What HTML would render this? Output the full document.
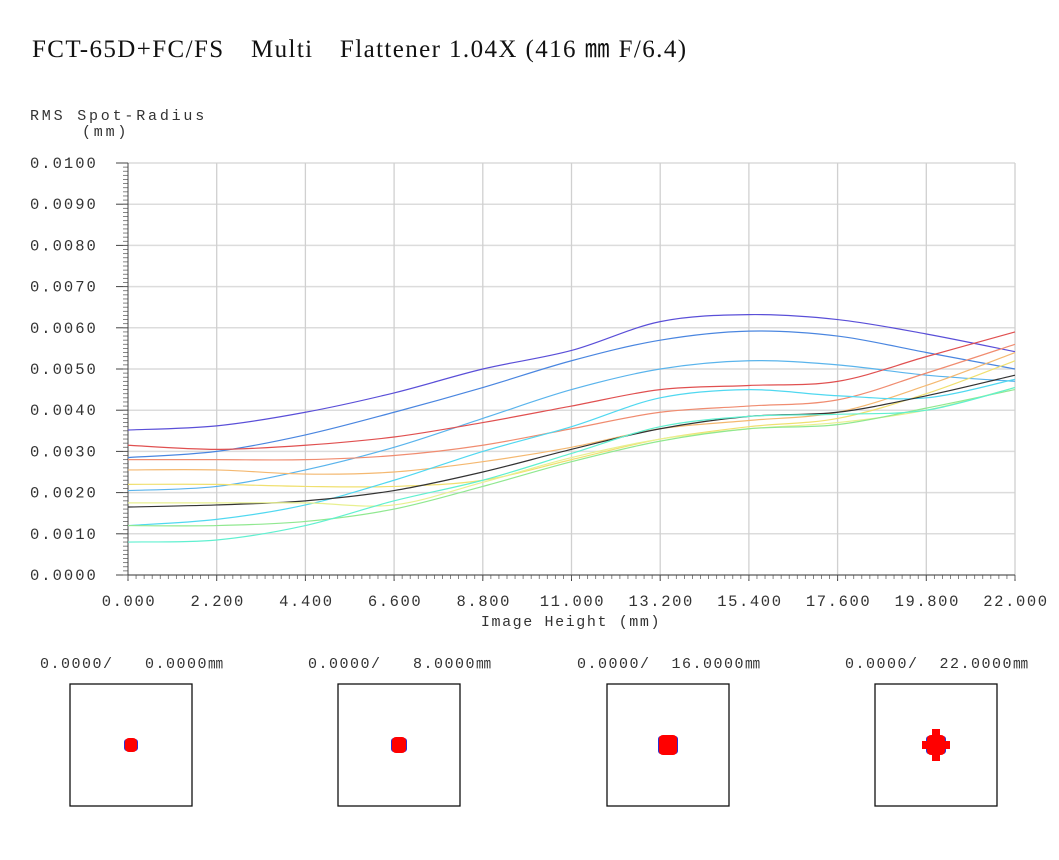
<!DOCTYPE html>
<html><head><meta charset="utf-8"><style>
body{margin:0;background:#fff;width:1059px;height:860px;overflow:hidden}
svg{display:block}
.mono{font-family:"Liberation Mono",monospace;white-space:pre}
</style></head><body>
<svg width="1059" height="860" xmlns="http://www.w3.org/2000/svg">
<text x="32" y="57" font-family="Liberation Serif, serif" font-size="25" letter-spacing="1.4" fill="#111" style="white-space:pre">FCT-65D+FC/FS　Multi　Flattener 1.04X (416 ㎜ F/6.4)</text>
<text x="30" y="120" class="mono" font-size="15" letter-spacing="2.8" fill="#333">RMS Spot-Radius</text>
<text x="82" y="136" class="mono" font-size="15" letter-spacing="2.8" fill="#333">(mm)</text>
<g id="grid"></g><g id="axes"></g><g id="series"></g>
<text x="571" y="626" text-anchor="middle" class="mono" font-size="15" letter-spacing="1.6" fill="#333">Image Height (mm)</text>
<g id="spots"></g>
</svg>
<script>
const xVals=[0,2.2,4.4,6.6,8.8,11,13.2,15.4,17.6,19.8,22];
const yTicks=[0,0.001,0.002,0.003,0.004,0.005,0.006,0.007,0.008,0.009,0.01];
const xTickLabels=["0.000","2.200","4.400","6.600","8.800","11.000","13.200","15.400","17.600","19.800","22.000"];
const sPurple=[3.52,3.62,3.95,4.42,5.0,5.45,6.15,6.32,6.2,5.85,5.42];
const sBlue=[2.85,3.0,3.4,3.95,4.55,5.2,5.7,5.92,5.8,5.4,5.0];
const sSky=[2.05,2.15,2.55,3.1,3.8,4.5,5.0,5.2,5.1,4.85,4.7];
const sRed=[3.15,3.05,3.15,3.35,3.7,4.1,4.5,4.6,4.7,5.3,5.9];
const sSalmon=[2.8,2.8,2.8,2.9,3.15,3.55,3.95,4.1,4.25,4.9,5.6];
const sOrange=[2.55,2.55,2.45,2.5,2.75,3.1,3.55,3.75,3.95,4.6,5.4];
const sYellow=[2.2,2.2,2.15,2.15,2.3,2.8,3.3,3.6,3.8,4.4,5.2];
const sCyan=[1.2,1.35,1.7,2.3,3.0,3.6,4.3,4.5,4.35,4.3,4.75];
const sBlack=[1.65,1.7,1.8,2.05,2.5,3.05,3.55,3.85,3.95,4.35,4.85];
const sPale=[1.75,1.75,1.75,1.7,2.25,2.85,3.3,3.55,3.7,4.0,4.55];
const sGreen=[1.2,1.2,1.3,1.6,2.15,2.75,3.25,3.55,3.65,4.05,4.5];
const sAqua=[0.8,0.85,1.2,1.8,2.3,2.95,3.6,3.85,3.9,4.0,4.55];
const series=[["purple",sPurple,"#5a4fd8"],["blue",sBlue,"#4a86e0"],["sky",sSky,"#5ab4ec"],["red",sRed,"#e05050"],["salmon",sSalmon,"#f08c70"],["orange",sOrange,"#f4b870"],["yellow",sYellow,"#f0e070"],["cyan",sCyan,"#50d8f0"],["black",sBlack,"#333333"],["pale",sPale,"#e8f090"],["green",sGreen,"#90e890"],["aqua",sAqua,"#60f0d0"]];
const NS="http://www.w3.org/2000/svg";
const X0=128,X1=1015,Y0=575,Y1=163;
const xs=v=>X0+(v/22)*(X1-X0);
const ys=v=>Y0-(v/0.01)*(Y0-Y1);
function mk(tag,attrs,parent){const e=document.createElementNS(NS,tag);for(const k in attrs)e.setAttribute(k,attrs[k]);parent.appendChild(e);return e;}
const grid=document.getElementById('grid'),axes=document.getElementById('axes'),ser=document.getElementById('series'),spots=document.getElementById('spots');
yTicks.forEach(t=>{const y=ys(t);
 const l=mk('line',{x1:X0,x2:X1,y1:y,y2:y,stroke:'#dcdcdc','stroke-width':1.5},grid);
 
 
 const tx=mk('text',{x:30,y:y+5,'class':'mono','font-size':15.5,'letter-spacing':2,fill:'#333'},axes);tx.textContent=t.toFixed(4);
 
 
 mk('line',{x1:116,x2:X0,y1:y,y2:y,stroke:'#444'},axes);});
for(let i=0;i<100;i++){const y=ys(i*0.0001);mk('line',{x1:X0-5,x2:X0,y1:y,y2:y,stroke:'#666','stroke-width':0.8},axes);}
xVals.forEach((v,i)=>{const x=xs(v);
 if(i>0){const l=mk('line',{x1:x,x2:x,y1:Y1,y2:Y0,stroke:'#d0d0d0','stroke-width':1.3},grid);
 
 }
 const tx=mk('text',{x:x+1,y:606,'text-anchor':'middle','class':'mono','font-size':15.5,'letter-spacing':1.6,fill:'#333'},axes);tx.textContent=xTickLabels[i];
 
 
 mk('line',{x1:x,x2:x,y1:Y0,y2:Y0+6,stroke:'#444'},axes);});
for(let i=0;i<=110;i++){const x=xs(i*0.2);mk('line',{x1:x,x2:x,y1:Y0,y2:Y0+4,stroke:'#666','stroke-width':0.8},axes);}
mk('line',{x1:X0,x2:X0,y1:Y1,y2:Y0,stroke:'#444'},axes);
mk('line',{x1:X0,x2:X1,y1:Y0,y2:Y0,stroke:'#444'},axes);
series.forEach(([n,vals,c])=>{const p=vals.map((v,i)=>[xs(xVals[i]),ys(v/1000)]);
 let d='M'+p[0][0]+','+p[0][1];
 for(let i=0;i<p.length-1;i++){const a=p[Math.max(0,i-1)],b=p[i],c2=p[i+1],e=p[Math.min(p.length-1,i+2)];
  d+=` C${b[0]+(c2[0]-a[0])/6},${b[1]+(c2[1]-a[1])/6} ${c2[0]-(e[0]-b[0])/6},${c2[1]-(e[1]-b[1])/6} ${c2[0]},${c2[1]}`;}
 const path=mk('path',{d:d,fill:'none',stroke:c,'stroke-width':1.2},ser);
 
 });
const spotLabels=["0.0000/   0.0000","0.0000/   8.0000","0.0000/  16.0000","0.0000/  22.0000"];
const boxX=[70,338,607,875];
spotLabels.forEach((s,i)=>{const bx=boxX[i];
 const t=mk('text',{x:bx-30,y:668,'class':'mono','font-size':15,'letter-spacing':1.5,fill:'#333'},spots);t.textContent=s+'㎜';
 
 
 const r=mk('rect',{x:bx,y:684,width:122,height:122,fill:'#fff',stroke:'#111','stroke-width':1.3},spots);
 
 
 const cx=bx+61,cy=745,sz=[7,8,10,10][i];
 mk('rect',{x:cx-sz,y:cy-sz+1,width:sz*2,height:sz*2-2,fill:'#3030d0',rx:3},spots);
 mk('rect',{x:cx-sz+1,y:cy-sz,width:sz*2-2,height:sz*2,fill:'#f00',rx:4},spots);
 if(i==3){mk('rect',{x:cx-14,y:cy-4,width:28,height:8,fill:'#f00'},spots);mk('rect',{x:cx-4,y:cy-16,width:8,height:32,fill:'#f00'},spots);}
});
</script>
</body></html>
